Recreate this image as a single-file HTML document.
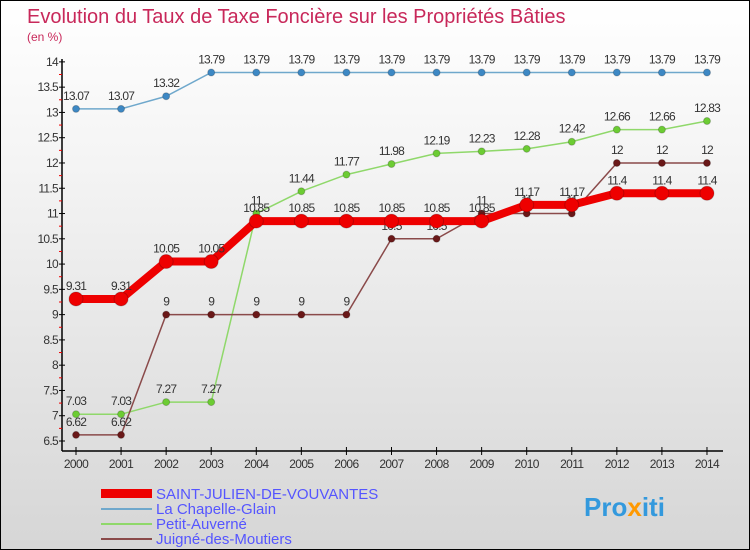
<!DOCTYPE html>
<html><head><meta charset="utf-8"><style>
body{margin:0;}
#c{width:748px;height:548px;border:1px solid #000;background:linear-gradient(#fff 0%,#f4f4f4 30%,#d6d6d6 100%);position:relative;overflow:hidden;font-family:"Liberation Sans",sans-serif;}
text{font-family:"Liberation Sans",sans-serif;}
</style></head><body>
<div id="c">
<svg id="s" width="748" height="548" xmlns="http://www.w3.org/2000/svg">
<text x="26" y="22" font-size="20" fill="#c8285a">Evolution du Taux de Taxe Foncière sur les Propriétés Bâties</text>
<text x="26" y="40" font-size="12" fill="#c8285a">(en %)</text>
<g id="axes"></g><g id="series"></g>
<g>
<rect x="100" y="488" width="51" height="9" fill="#e00"/>
<text x="155" y="498" font-size="15" fill="#5555ff">SAINT-JULIEN-DE-VOUVANTES</text>
<rect x="100" y="507" width="51" height="2" fill="#6fa8cc"/>
<text x="155" y="513" font-size="15" fill="#5555ff">La Chapelle-Glain</text>
<rect x="100" y="522" width="51" height="2" fill="#8fd86a"/>
<text x="155" y="528" font-size="15" fill="#5555ff">Petit-Auverné</text>
<rect x="100" y="537" width="51" height="2" fill="#8a4a4a"/>
<text x="155" y="543" font-size="15" fill="#5555ff">Juigné-des-Moutiers</text>
</g>
<text x="583" y="515" font-size="26" font-weight="bold" fill="#3399dd">Pro<tspan fill="#ff9900">x</tspan>iti</text>
</svg></div>
<script>
const years=[2000,2001,2002,2003,2004,2005,2006,2007,2008,2009,2010,2011,2012,2013,2014];
const yTicks=[6.5,7,7.5,8,8.5,9,9.5,10,10.5,11,11.5,12,12.5,13,13.5,14];
const saintJulien=[9.31,9.31,10.05,10.05,10.85,10.85,10.85,10.85,10.85,10.85,11.17,11.17,11.4,11.4,11.4];
const chapelle=[13.07,13.07,13.32,13.79,13.79,13.79,13.79,13.79,13.79,13.79,13.79,13.79,13.79,13.79,13.79];
const petitAuverne=[7.03,7.03,7.27,7.27,11,11.44,11.77,11.98,12.19,12.23,12.28,12.42,12.66,12.66,12.83];
const juigne=[6.62,6.62,9,9,9,9,9,10.5,10.5,11,11,11,12,12,12];
const NS="http://www.w3.org/2000/svg";
const xS=i=>75+i*45.07;
const yS=v=>440-(v-6.5)*50.55;
function mk(t,a,p){const e=document.createElementNS(NS,t);for(const k in a)e.setAttribute(k,a[k]);p.appendChild(e);return e;}
const ax=document.getElementById('axes');
const yl=mk('line',{x1:61,y1:58,x2:61,y2:450,stroke:'#000','stroke-width':1.5},ax);


const xl=mk('line',{x1:61,y1:450,x2:722,y2:450,stroke:'#000','stroke-width':1.5},ax);


yTicks.forEach(v=>{
 mk('line',{x1:58,y1:yS(v),x2:64,y2:yS(v),stroke:'#000'},ax);
 if(v<14) mk('line',{x1:58,y1:yS(v+0.25),x2:61,y2:yS(v+0.25),stroke:'#e00'},ax);
 const t=mk('text',{x:57,y:yS(v)+4,'font-size':12,'text-anchor':'end',fill:'#333','letter-spacing':'-0.7'},ax);
 
 
 t.textContent=v;
});
years.forEach((y,i)=>{
 mk('line',{x1:xS(i),y1:446,x2:xS(i),y2:454,stroke:'#000'},ax);
 const t=mk('text',{x:xS(i),y:467,'font-size':12,'text-anchor':'middle',fill:'#333','letter-spacing':'-0.6'},ax);
 
 
 t.textContent=y;
});
const sg=document.getElementById('series');
function draw(vals,color,dot,w,r,name){
 const g=mk('g',{},sg);
 
 
 mk('polyline',{points:vals.map((v,i)=>xS(i)+','+yS(v)).join(' '),fill:'none',stroke:color,'stroke-width':w},g);
 vals.forEach((v,i)=>{
  const c=mk('circle',{cx:xS(i),cy:yS(v),r:r,fill:dot,stroke:'rgba(0,0,0,0.2)'},g);
  
  
  const t=mk('text',{x:xS(i),y:yS(v)-9,'font-size':12,'text-anchor':'middle',fill:'#333','letter-spacing':'-0.8'},g);
  
  
  t.textContent=v;
 });
}
draw(chapelle,'#6fa8cc','#3d88c4',1.5,3.5,'series-chapelle');
draw(petitAuverne,'#8fd86a','#6ccc33',1.5,3.5,'series-petit-auverne');
draw(juigne,'#8a4a4a','#6a1818',1.5,3.5,'series-juigne');
draw(saintJulien,'#ee0000','#ee0000',8,7,'series-saint-julien');
</script>
</body></html>
